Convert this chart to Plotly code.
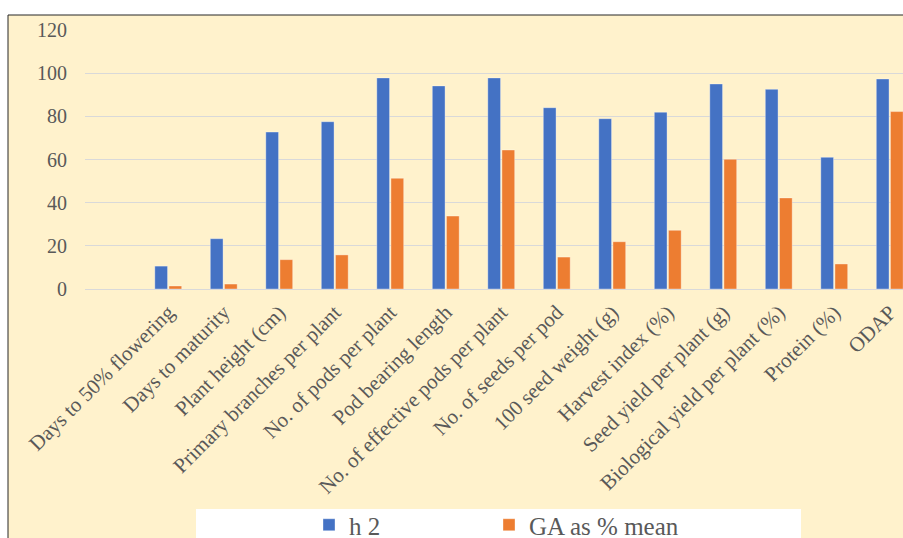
import plotly.graph_objects as go

# Traits (an empty slot precedes the first trait on the category axis)
categories = [
    "Days to 50% flowering",
    "Days to maturity",
    "Plant height (cm)",
    "Primary branches per plant",
    "No. of pods per plant",
    "Pod bearing length",
    "No. of effective pods per plant",
    "No. of seeds per pod",
    "100 seed weight (g)",
    "Harvest index (%)",
    "Seed yield per plant (g)",
    "Biological yield per plant (%)",
    "Protein (%)",
    "ODAP",
]
axis_order = [" "] + categories

# Heritability and genetic advance as % of mean
h2 = [10.6, 23.3, 72.7, 77.5, 97.8, 94.1, 97.8, 84.0, 78.9, 81.9, 95.0, 92.5, 61.0, 97.3]
ga_pct_mean = [1.4, 2.3, 13.6, 15.8, 51.3, 33.8, 64.4, 14.8, 21.9, 27.2, 60.1, 42.2, 11.6, 82.2]

y_ticks = [0, 20, 40, 60, 80, 100, 120]

BLUE = "#4472C4"
ORANGE = "#ED7D31"
CREAM = "#FFF2CC"
TEXT = "#595959"
FONT = "Liberation Serif, Times New Roman, serif"

W, H = 903, 538
ML, MR, MT, MB = 85, 0, 30, 249
PW = W - ML - MR
PH = H - MT - MB


def px_x(x):
    return (x - ML) / PW


def px_y(y):
    return (H - MB - y) / PH


fig = go.Figure()
fig.add_trace(go.Bar(
    name="h 2", x=categories, y=h2, legend="legend",
    marker=dict(color=BLUE, line=dict(color="rgba(255,255,255,0.35)", width=1)),
))
fig.add_trace(go.Bar(
    name="GA as % mean", x=categories, y=ga_pct_mean, legend="legend2",
    marker=dict(color=ORANGE, line=dict(color="rgba(255,255,255,0.35)", width=1)),
))

# Cream chart area with a thin dark frame, and the white legend panel
fig.add_shape(type="rect", xref="paper", yref="paper", layer="below",
              x0=px_x(8), x1=px_x(960), y0=px_y(15), y1=px_y(600),
              fillcolor=CREAM, line=dict(color="#262626", width=1))
fig.add_shape(type="rect", xref="paper", yref="paper", layer="above",
              x0=px_x(196), x1=px_x(801), y0=px_y(509), y1=px_y(600),
              fillcolor="white", line=dict(width=0))

legend_common = dict(
    orientation="h",
    xref="container", yref="container",
    xanchor="left",
    y=(H - 502) / H, yanchor="top",
    bgcolor="rgba(0,0,0,0)",
    font=dict(family=FONT, size=25, color=TEXT),
    itemwidth=30,
)

fig.update_layout(
    width=W, height=H,
    margin=dict(l=ML, r=MR, t=MT, b=MB, pad=0),
    paper_bgcolor="white",
    plot_bgcolor="rgba(0,0,0,0)",
    barmode="group",
    bargap=0.49,
    bargroupgap=0.1,
    font=dict(family=FONT, color=TEXT),
    showlegend=True,
    legend=dict(x=309 / W, **legend_common),
    legend2=dict(x=489 / W, **legend_common),
    xaxis=dict(
        type="category",
        categoryorder="array",
        categoryarray=axis_order,
        range=[-0.5, -0.5 + PW / 55.5],
        tickangle=-45,
        tickfont=dict(family=FONT, size=21, color=TEXT),
        showgrid=False,
        showline=False,
        ticks="",
        ticklabelstandoff=6,
    ),
    yaxis=dict(
        range=[0, 120],
        tickvals=y_ticks,
        tickfont=dict(family=FONT, size=20, color=TEXT),
        showgrid=True,
        gridcolor="#D9D9D9",
        gridwidth=1,
        zeroline=True,
        zerolinecolor="#D9D9D9",
        zerolinewidth=1,
        showline=False,
        ticks="",
        ticklabelstandoff=17,
    ),
)

fig.write_html("out.html")
